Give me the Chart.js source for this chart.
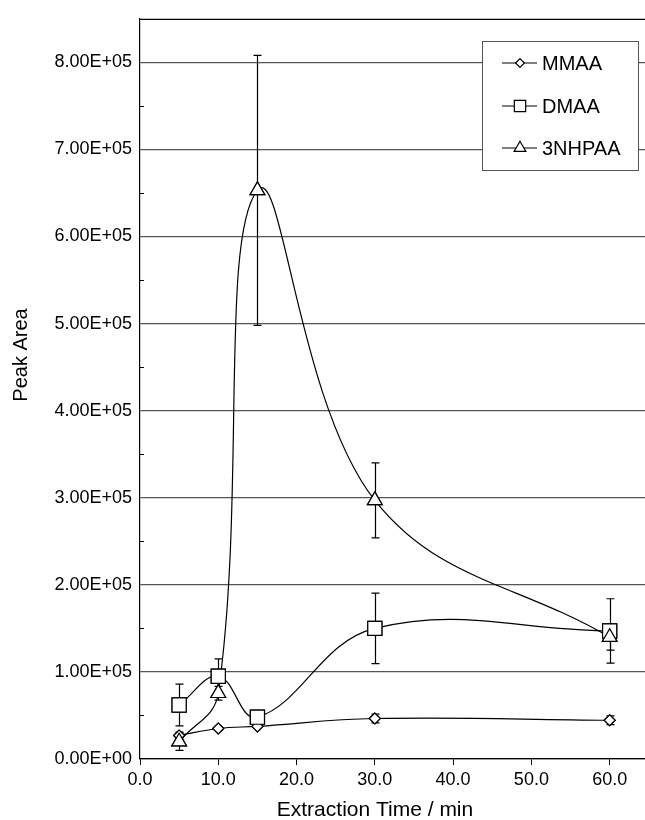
<!DOCTYPE html>
<html>
<head>
<meta charset="utf-8">
<script src="https://cdn.jsdelivr.net/npm/chart.js@4"></script>
<style>
  html, body { margin: 0; padding: 0; background: #fff; overflow: hidden; }
  #wrap { width: 660px; height: 820px; }
</style>
</head>
<body>
<div id="wrap"><canvas id="chart" width="660" height="820"></canvas></div>
<script>
// Extraction time points (min)
const times = [5, 10, 15, 30, 60];

// Peak areas
const mmaa = [27000, 35000, 37500, 46500, 44500];
const dmaa = [62000, 95000, 48000, 150000, 147000];
const nhpaa = [20000, 75500, 653000, 297000, 140000];

// Error bar half-heights
const mmaaErr = [4000, 2000, 2000, 5000, 5000];
const dmaaErr = [24000, 20000, 4000, 40500, 37000];
const nhpaaErr = [10000, 8000, 155000, 43000, 15000];

const seriesNames = ['MMAA', 'DMAA', '3NHPAA'];
const xTicks = [0, 10, 20, 30, 40, 50, 60];
const xTitle = 'Extraction Time / min';
const yTitle = 'Peak Area';

const FONT = '"Liberation Sans", Arial, Helvetica, sans-serif';

function toPoints(values) {
    return times.map((t, i) => ({ x: t, y: values[i] }));
}

// Format like 8.00E+05
function sciLabel(v) {
    if (v === 0) return '0.00E+00';
    const e = Math.floor(Math.log10(v) + 1e-9);
    const m = v / Math.pow(10, e);
    return m.toFixed(2) + 'E+' + String(e).padStart(2, '0');
}

// Draw error bars, then put markers back on top of every line
const errorBarsPlugin = {
    id: 'errorBars',
    afterDatasetsDraw(chart) {
        const ctx = chart.ctx;
        const yScale = chart.scales.y;
        ctx.save();
        ctx.strokeStyle = '#000';
        ctx.lineWidth = 1.2;
        chart.data.datasets.forEach((ds, di) => {
            const meta = chart.getDatasetMeta(di);
            meta.data.forEach((pt, i) => {
                const err = ds.errors[i];
                const v = ds.data[i].y;
                const yTop = yScale.getPixelForValue(v + err);
                const yBot = yScale.getPixelForValue(v - err);
                const x = Math.round(pt.x) + 0.5;
                ctx.beginPath();
                ctx.moveTo(x, yTop);
                ctx.lineTo(x, yBot);
                ctx.moveTo(x - 4, yTop);
                ctx.lineTo(x + 4, yTop);
                ctx.moveTo(x - 4, yBot);
                ctx.lineTo(x + 4, yBot);
                ctx.stroke();
            });
        });
        ctx.restore();
        chart.data.datasets.forEach((ds, di) => {
            const meta = chart.getDatasetMeta(di);
            meta.data.forEach(pt => pt.draw(ctx, chart.chartArea));
        });
    }
};

// Frame, inner minor ticks, axis titles and legend box
const framePlugin = {
    id: 'frame',
    afterDraw(chart) {
        const ctx = chart.ctx;
        const area = chart.chartArea;
        const yScale = chart.scales.y;
        ctx.save();
        ctx.strokeStyle = '#000';
        ctx.lineWidth = 1.2;
        ctx.beginPath();
        ctx.moveTo(area.left, area.top + 0.5);
        ctx.lineTo(area.right, area.top + 0.5);
        ctx.stroke();

        // minor ticks on y axis, pointing inside
        ctx.beginPath();
        for (let v = 50000; v < 850000; v += 100000) {
            const y = Math.round(yScale.getPixelForValue(v)) + 0.5;
            ctx.moveTo(area.left, y);
            ctx.lineTo(area.left + 4, y);
        }
        ctx.stroke();

        // axis titles
        ctx.fillStyle = '#000';
        ctx.textAlign = 'center';
        ctx.textBaseline = 'alphabetic';
        ctx.font = '21px ' + FONT;
        ctx.fillText(xTitle, 375, 816);
        ctx.save();
        ctx.translate(27, 355);
        ctx.rotate(-Math.PI / 2);
        ctx.font = '20px ' + FONT;
        ctx.fillText(yTitle, 0, 0);
        ctx.restore();

        // legend
        const bx = 482, by = 41, bw = 156, bh = 129;
        ctx.fillStyle = '#fff';
        ctx.fillRect(bx, by, bw, bh);
        ctx.strokeStyle = '#555';
        ctx.lineWidth = 1;
        ctx.strokeRect(bx + 0.5, by + 0.5, bw, bh);

        const rows = [63, 106, 148];
        ctx.font = '20px ' + FONT;
        ctx.textAlign = 'left';
        ctx.textBaseline = 'middle';
        chart.data.datasets.forEach((ds, di) => {
            const y = rows[di];
            ctx.strokeStyle = '#000';
            ctx.lineWidth = 1.2;
            ctx.beginPath();
            ctx.moveTo(502, y);
            ctx.lineTo(537, y);
            ctx.stroke();
            ctx.fillStyle = '#fff';
            Chart.helpers.drawPoint(ctx, {
                pointStyle: ds.pointStyle,
                radius: ds.pointRadius * 0.8,
                borderWidth: 1.2
            }, 520, y);
            ctx.fillStyle = '#000';
            ctx.fillText(seriesNames[di], 542, y + 1);
        });
        ctx.restore();
    }
};

function lineSeries(label, values, errors, style, radius) {
    return {
        label: label,
        data: toPoints(values),
        errors: errors,
        borderColor: '#000',
        borderWidth: 1.2,
        backgroundColor: '#fff',
        pointStyle: style,
        pointRadius: radius,
        pointBorderWidth: 1.2,
        pointBackgroundColor: '#fff',
        pointBorderColor: '#000',
        tension: 0.4,
        fill: false
    };
}

new Chart(document.getElementById('chart'), {
    type: 'line',
    data: {
        datasets: [
            lineSeries('MMAA', mmaa, mmaaErr, 'rectRot', 5.5),
            lineSeries('DMAA', dmaa, dmaaErr, 'rect', 10),
            lineSeries('3NHPAA', nhpaa, nhpaaErr, 'triangle', 8.5)
        ]
    },
    options: {
        responsive: false,
        animation: false,
        layout: { padding: { top: 13, right: 0, left: 0, bottom: 0 } },
        plugins: {
            legend: { display: false },
            tooltip: { enabled: false }
        },
        scales: {
            x: {
                type: 'linear',
                min: 0,
                max: 65,
                afterFit: scale => {
                    scale.height = 61;
                    scale.paddingRight = 0;
                    scale.paddingLeft = 0;
                },
                afterBuildTicks: scale => { scale.ticks = xTicks.map(v => ({ value: v })); },
                grid: {
                    drawOnChartArea: false,
                    drawTicks: true,
                    tickLength: 6,
                    color: '#000'
                },
                border: { color: '#000', width: 1.2 },
                ticks: {
                    color: '#000',
                    padding: 4,
                    font: { family: FONT, size: 18 },
                    callback: v => v.toFixed(1)
                }
            },
            y: {
                min: 0,
                max: 850000,
                afterFit: scale => { scale.width = 140; },
                afterBuildTicks: scale => {
                    const t = [];
                    for (let v = 0; v <= 800000; v += 100000) t.push({ value: v });
                    scale.ticks = t;
                },
                grid: {
                    drawTicks: false,
                    color: '#555',
                    lineWidth: 1.2
                },
                border: { color: '#000', width: 1.2 },
                ticks: {
                    color: '#000',
                    padding: 8,
                    font: { family: FONT, size: 18 },
                    callback: v => sciLabel(v)
                }
            }
        }
    },
    plugins: [errorBarsPlugin, framePlugin]
});
</script>
</body>
</html>
